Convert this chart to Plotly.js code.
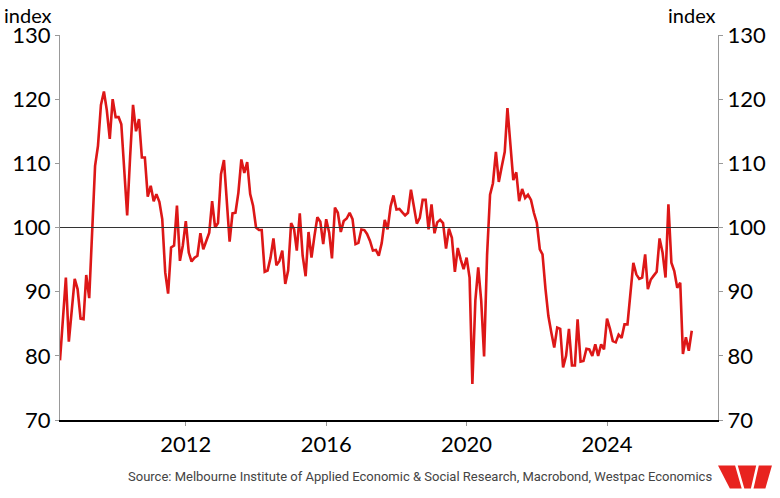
<!DOCTYPE html>
<html><head><meta charset="utf-8">
<script src="https://cdn.plot.ly/plotly-3.0.1.min.js"></script>
<style>body{margin:0}#chart{width:780px;height:498px}</style>
</head><body><div id="chart"></div>
<script>
// consumer sentiment index, monthly, last obs Jun 2026
var sentiment = [79.3,85.8,92.2,82.2,86.8,92.0,90.4,85.8,85.7,92.6,89.0,100.3,109.6,112.7,119.1,121.2,118.3,113.8,120.0,117.2,117.2,116.1,109.0,101.9,111.1,119.1,115.0,116.9,110.9,110.9,104.8,106.5,104.1,105.2,104.0,101.3,93.0,89.7,96.9,97.2,103.4,94.8,97.2,101.0,96.1,94.7,95.3,95.6,99.1,96.6,97.9,99.2,104.1,100.0,100.7,108.3,110.5,104.4,97.8,102.2,102.3,105.4,110.6,108.5,110.2,105.2,103.4,100.0,99.6,99.6,93.1,93.3,95.3,98.3,94.1,94.8,96.4,91.2,93.3,100.7,99.7,96.4,102.2,95.6,92.4,99.3,95.3,98.7,101.6,100.9,97.4,101.3,99.2,95.2,103.1,102.3,99.3,101.0,101.4,102.3,101.3,97.4,97.6,99.7,99.6,99.0,97.9,96.4,96.5,95.6,
97.6,101.2,99.7,103.3,105.0,102.8,102.9,102.4,101.9,102.3,105.9,103.3,100.6,101.5,104.3,104.3,99.7,103.6,99.1,100.8,101.2,100.7,96.7,99.8,98.4,93.1,96.8,95.0,93.5,95.3,92.2,75.6,88.6,93.8,88.6,79.9,95.7,105.1,106.9,111.8,107.1,109.5,111.8,118.6,113.2,107.4,108.6,104.1,106.0,104.6,105.1,104.3,102.3,100.7,96.6,95.8,90.4,86.2,83.6,81.3,84.4,84.2,78.2,80.0,84.2,78.5,78.5,85.7,79.1,79.2,81.1,81.0,80.0,81.8,80.0,81.8,81.0,85.8,84.2,82.3,82.1,83.3,82.8,84.9,84.9,90.4,94.5,92.7,92.0,92.2,95.8,90.4,91.9,92.5,93.1,98.3,96.1,92.2,103.6,94.5,93.2,90.6,91.4,80.3,82.9,80.8,83.9];
var lastYear = 2026, lastMonth = 6;
var yTicks = [70,80,90,100,110,120,130];
var sourceText = 'Source: Melbourne Institute of Applied Economic &amp; Social Research, Macrobond, Westpac Economics';

var dates = [];
for (var i = 0; i < sentiment.length; i++){
	var m = lastYear*12 + (lastMonth-1) - (sentiment.length-1-i);
	var yy = Math.floor(m/12), mm = m%12 + 1;
	dates.push(yy + '-' + (mm<10?'0':'') + mm + '-01');
}
var font = {family: 'Lato, "Noto Sans", sans-serif', color: '#000'};
var data = [
	{x: dates, y: sentiment, type: 'scatter', mode: 'lines', line: {color: '#dd1717', width: 2.6}, hoverinfo: 'x+y'},
	{x: [dates[0]], y: [null], yaxis: 'y2', type: 'scatter', showlegend: false}
];
var yax = {range: [70,130], tickvals: yTicks, showgrid: false, zeroline: false, showline: true,
	linecolor: '#999', linewidth: 1, ticks: 'outside', ticklen: 4, tickcolor: '#999',
	tickfont: {family: font.family, size: 22, color: '#000'}};
var logo = 'M 1.000 -0.118 L 1.026 -0.118 L 1.036 -0.178 L 1.018 -0.178 Z ' +
	'M 1.030 -0.118 L 1.058 -0.118 L 1.050 -0.178 L 1.040 -0.178 Z ' +
	'M 1.062 -0.118 L 1.082 -0.118 L 1.072 -0.178 L 1.054 -0.178 Z';
var layout = {
	width: 780, height: 498,
	margin: {l: 60, r: 62, t: 35, b: 78},
	paper_bgcolor: '#fff', plot_bgcolor: '#fff',
	showlegend: false,
	xaxis: {type: 'date', range: [dates[0], '2027-03-01'], tickvals: ['2012-01-01','2016-01-01','2020-01-01','2024-01-01'],
		ticktext: ['2012','2016','2020','2024'], showgrid: false, zeroline: false, showline: true, linecolor: '#000',
		linewidth: 1.5, ticks: 'outside', ticklen: 4, tickcolor: '#999',
		tickfont: {family: font.family, size: 22, color: '#000'}},
	yaxis: yax,
	yaxis2: Object.assign({}, yax, {overlaying: 'y', side: 'right'}),
	shapes: [
		{type: 'line', xref: 'paper', x0: 0, x1: 1, yref: 'y', y0: 100, y1: 100, line: {color: '#333', width: 1}},
		{type: 'path', xref: 'paper', yref: 'paper', layer: 'above', line: {width: 0}, fillcolor: '#e8231f', path: logo}
	],
	annotations: [
		{text: 'index', xref: 'paper', yref: 'paper', x: 0, y: 1, xanchor: 'left', yanchor: 'bottom', xshift: -58, yshift: 6,
			showarrow: false, font: {family: font.family, size: 20, color: '#000'}},
		{text: 'index', xref: 'paper', yref: 'paper', x: 1, y: 1, xanchor: 'right', yanchor: 'bottom', yshift: 6,
			showarrow: false, font: {family: font.family, size: 20, color: '#000'}},
		{text: sourceText, xref: 'paper', yref: 'paper', x: 1, y: 0, xanchor: 'right', yanchor: 'middle', yshift: -56, xshift: -4,
			showarrow: false, font: {family: 'Roboto, sans-serif', size: 13, color: '#444'}}
	]
};
Plotly.newPlot('chart', data, layout, {displayModeBar: false});
</script></body></html>
